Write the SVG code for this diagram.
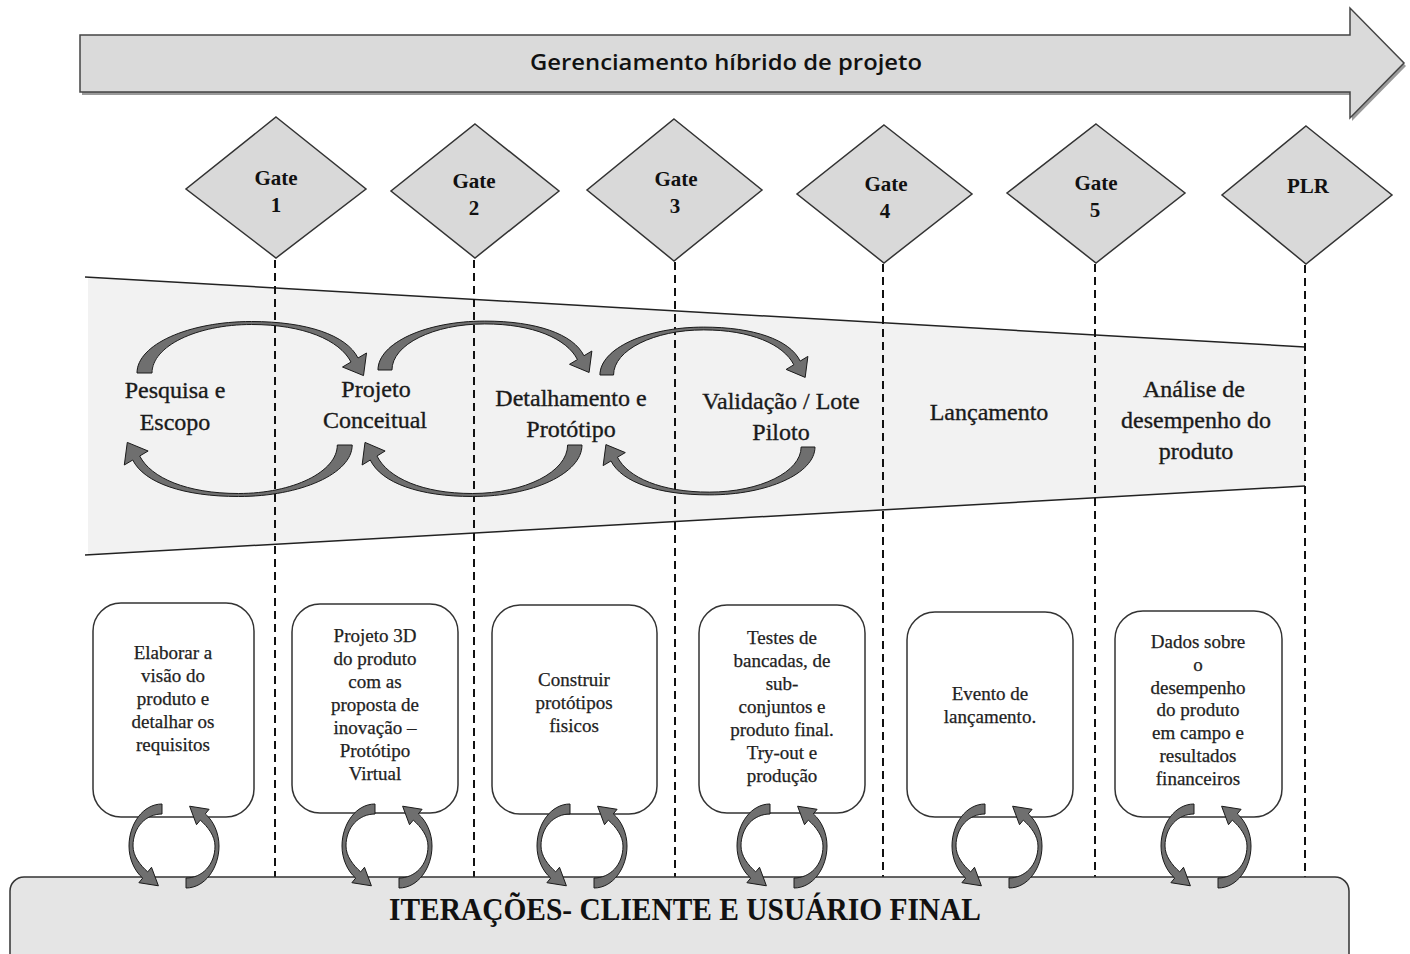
<svg xmlns="http://www.w3.org/2000/svg" xmlns:xlink="http://www.w3.org/1999/xlink" width="1410" height="954" viewBox="0 0 1410 954">
  <style>
    .serif { font-family: "Liberation Serif", "Times New Roman", serif; }
    .gate-shape { fill: #d9d9d9; stroke: #333; stroke-width: 1.5; }
    .gate-label { font-family: "Liberation Serif", "Times New Roman", serif; font-weight: bold; font-size: 21px; fill: #111; text-anchor: middle; }
    .phase { font-family: "Liberation Serif", "Times New Roman", serif; font-size: 24px; fill: #1a1a1a; stroke: #1a1a1a; stroke-width: 0.35; text-anchor: middle; }
    .task-box { fill: #fff; stroke: #333; stroke-width: 1.5; }
    .task { font-family: "Liberation Serif", "Times New Roman", serif; font-size: 19px; fill: #222; stroke: #222; stroke-width: 0.25; text-anchor: middle; }
    .gate-line { stroke: #111; stroke-width: 2; stroke-dasharray: 8 5; fill: none; }
    .arc { fill: #6f6f6f; stroke: #1a1a1a; stroke-width: 1; stroke-linejoin: round; }
    .edge { stroke: #222; stroke-width: 1.5; fill: none; }
  </style>
  <defs>
    <!-- large curved block arrow: thick tail on the left, thin crest, head on the right -->
    <path id="bigArc" class="arc" vector-effect="non-scaling-stroke"
      d="M -114.5 0 C -114.5 -28.4 -63 -51.5 0 -51.5 C 55 -51.5 95 -38 106.5 -15 L 115 -20 L 112 2.6 L 91 -6 L 99.5 -11 C 88 -33 52 -48.5 0 -48.5 C -55 -48.5 -99.5 -26.8 -99.5 0 Z"/>
    <!-- half of the small iteration loop: tail at top, head at bottom -->
    <path id="smallArc" class="arc"
      d="M -12 -42 C -31 -42 -45 -22 -45 0 C -45 13 -39.5 25 -31.3 32.1 L -35.1 36.7 L -15.6 39.8 L -22.5 21.3 L -26.3 25.9 C -34 19 -41 10 -41 0 C -41 -19 -28 -32 -12 -32 Z"/>
  </defs>

  <rect width="1410" height="954" fill="#fff"/>

  <!-- hybrid project management banner -->
  <g id="banner">
    <path d="M 82 38 L 1352 38 L 1352 11 L 1406 66 L 1352 121 L 1352 95 L 82 95 Z" fill="#9a9a9a"/>
    <path d="M 80 35 L 1350 35 L 1350 8 L 1404 63 L 1350 118 L 1350 92 L 80 92 Z" fill="#dadada" stroke="#444" stroke-width="1.5"/>
    <text x="726" y="70" font-family="'Open Sans', 'Liberation Sans', sans-serif" font-weight="600" font-size="22" fill="#111" text-anchor="middle" textLength="392" lengthAdjust="spacingAndGlyphs">Gerenciamento híbrido de projeto</text>
  </g>

  <!-- phase funnel -->
  <g id="funnel">
    <polygon points="88,277 1305,347 1305,486 88,555" fill="#f2f2f2"/>
    <line class="edge" x1="85" y1="277" x2="1305" y2="347"/>
    <line class="edge" x1="85" y1="555" x2="1305" y2="486"/>
  </g>

  <!-- gate separators -->
  <g id="connectors">
    <line class="gate-line" x1="275" y1="260" x2="275" y2="877"/>
    <line class="gate-line" x1="474" y1="260" x2="474" y2="877"/>
    <line class="gate-line" x1="675" y1="262" x2="675" y2="877"/>
    <line class="gate-line" x1="883" y1="264" x2="883" y2="877"/>
    <line class="gate-line" x1="1095" y1="264" x2="1095" y2="877"/>
    <line class="gate-line" x1="1305" y1="265" x2="1305" y2="877"/>

    <!-- phase-to-phase loops -->
    <use href="#bigArc" transform="translate(251.5,373) scale(1,1)"/>
    <use href="#bigArc" transform="translate(238.5,445) scale(-0.993,-1)"/>
    <use href="#bigArc" transform="translate(484.7,370) scale(0.932,0.95)"/>
    <use href="#bigArc" transform="translate(472.3,445) scale(-0.958,-1)"/>
    <use href="#bigArc" transform="translate(703.7,375) scale(0.906,0.93)"/>
    <use href="#bigArc" transform="translate(709.3,447) scale(-0.923,-0.93)"/>
  </g>

  <!-- gates -->
  <g id="gate1">
    <polygon class="gate-shape" points="276,117 366,189 276,258 186,189"/>
    <text class="gate-label" x="276" y="185">Gate</text>
    <text class="gate-label" x="276" y="212">1</text>
  </g>
  <g id="gate2">
    <polygon class="gate-shape" points="475,124 559,191 475,258 391,191"/>
    <text class="gate-label" x="474" y="188">Gate</text>
    <text class="gate-label" x="474" y="215">2</text>
  </g>
  <g id="gate3">
    <polygon class="gate-shape" points="674,119 762,190 674,261 587,190"/>
    <text class="gate-label" x="676" y="186">Gate</text>
    <text class="gate-label" x="675" y="213">3</text>
  </g>
  <g id="gate4">
    <polygon class="gate-shape" points="884,125 972,194 884,263 797,194"/>
    <text class="gate-label" x="886" y="191">Gate</text>
    <text class="gate-label" x="885" y="218">4</text>
  </g>
  <g id="gate5">
    <polygon class="gate-shape" points="1096,124 1185,193 1096,263 1007,193"/>
    <text class="gate-label" x="1096" y="190">Gate</text>
    <text class="gate-label" x="1095" y="217">5</text>
  </g>
  <g id="gatePLR">
    <polygon class="gate-shape" points="1306,126 1392,195 1306,264 1222,195"/>
    <text class="gate-label" x="1308" y="193">PLR</text>
  </g>

  <!-- phase labels -->
  <g id="phase1">
    <text class="phase" x="175" y="398">Pesquisa e</text>
    <text class="phase" x="175" y="430">Escopo</text>
  </g>
  <g id="phase2">
    <text class="phase" x="376" y="397">Projeto</text>
    <text class="phase" x="375" y="428">Conceitual</text>
  </g>
  <g id="phase3">
    <text class="phase" x="571" y="406">Detalhamento e</text>
    <text class="phase" x="571" y="437">Protótipo</text>
  </g>
  <g id="phase4">
    <text class="phase" x="781" y="409">Validação / Lote</text>
    <text class="phase" x="781" y="440">Piloto</text>
  </g>
  <g id="phase5">
    <text class="phase" x="989" y="420">Lançamento</text>
  </g>
  <g id="phase6">
    <text class="phase" x="1194" y="397">Análise de</text>
    <text class="phase" x="1196" y="428">desempenho do</text>
    <text class="phase" x="1196" y="459">produto</text>
  </g>

  <!-- activity boxes -->
  <g id="task1">
    <rect class="task-box" x="93" y="603" width="161" height="214" rx="28"/>
    <text class="task" x="173" y="659">Elaborar a</text>
    <text class="task" x="173" y="682">visão do</text>
    <text class="task" x="173" y="705">produto e</text>
    <text class="task" x="173" y="728">detalhar os</text>
    <text class="task" x="173" y="751">requisitos</text>
  </g>
  <g id="task2">
    <rect class="task-box" x="292" y="604" width="166" height="209" rx="28"/>
    <text class="task" x="375" y="642">Projeto 3D</text>
    <text class="task" x="375" y="665">do produto</text>
    <text class="task" x="375" y="688">com as</text>
    <text class="task" x="375" y="711">proposta de</text>
    <text class="task" x="375" y="734">inovação –</text>
    <text class="task" x="375" y="757">Protótipo</text>
    <text class="task" x="375" y="780">Virtual</text>
  </g>
  <g id="task3">
    <rect class="task-box" x="492" y="605" width="165" height="209" rx="28"/>
    <text class="task" x="574" y="686">Construir</text>
    <text class="task" x="574" y="709">protótipos</text>
    <text class="task" x="574" y="732">fisicos</text>
  </g>
  <g id="task4">
    <rect class="task-box" x="699" y="605" width="166" height="208" rx="28"/>
    <text class="task" x="782" y="644">Testes de</text>
    <text class="task" x="782" y="667">bancadas, de</text>
    <text class="task" x="782" y="690">sub-</text>
    <text class="task" x="782" y="713">conjuntos e</text>
    <text class="task" x="782" y="736">produto final.</text>
    <text class="task" x="782" y="759">Try-out e</text>
    <text class="task" x="782" y="782">produção</text>
  </g>
  <g id="task5">
    <rect class="task-box" x="907" y="612" width="166" height="205" rx="28"/>
    <text class="task" x="990" y="700">Evento de</text>
    <text class="task" x="990" y="723">lançamento.</text>
  </g>
  <g id="task6">
    <rect class="task-box" x="1115" y="611" width="167" height="206" rx="28"/>
    <text class="task" x="1198" y="648">Dados sobre</text>
    <text class="task" x="1198" y="671">o</text>
    <text class="task" x="1198" y="694">desempenho</text>
    <text class="task" x="1198" y="716">do produto</text>
    <text class="task" x="1198" y="739">em campo e</text>
    <text class="task" x="1198" y="762">resultados</text>
    <text class="task" x="1198" y="785">financeiros</text>
  </g>

  <!-- customer iteration bar -->
  <g id="iterations">
    <rect x="10" y="877" width="1339" height="100" rx="14" fill="#e5e5e5" stroke="#333" stroke-width="1.5"/>
    <text class="serif" x="685" y="920" font-weight="bold" font-size="31" fill="#111" text-anchor="middle" textLength="592" lengthAdjust="spacingAndGlyphs">ITERAÇÕES- CLIENTE E USUÁRIO FINAL</text>
  </g>

  <!-- iteration loops under each box -->
  <g id="loops">
    <g transform="translate(174,846)"><use href="#smallArc"/><use href="#smallArc" transform="rotate(180)"/></g>
    <g transform="translate(387,846)"><use href="#smallArc"/><use href="#smallArc" transform="rotate(180)"/></g>
    <g transform="translate(582,846)"><use href="#smallArc"/><use href="#smallArc" transform="rotate(180)"/></g>
    <g transform="translate(782,846)"><use href="#smallArc"/><use href="#smallArc" transform="rotate(180)"/></g>
    <g transform="translate(997,846)"><use href="#smallArc"/><use href="#smallArc" transform="rotate(180)"/></g>
    <g transform="translate(1206,846)"><use href="#smallArc"/><use href="#smallArc" transform="rotate(180)"/></g>
  </g>
</svg>
